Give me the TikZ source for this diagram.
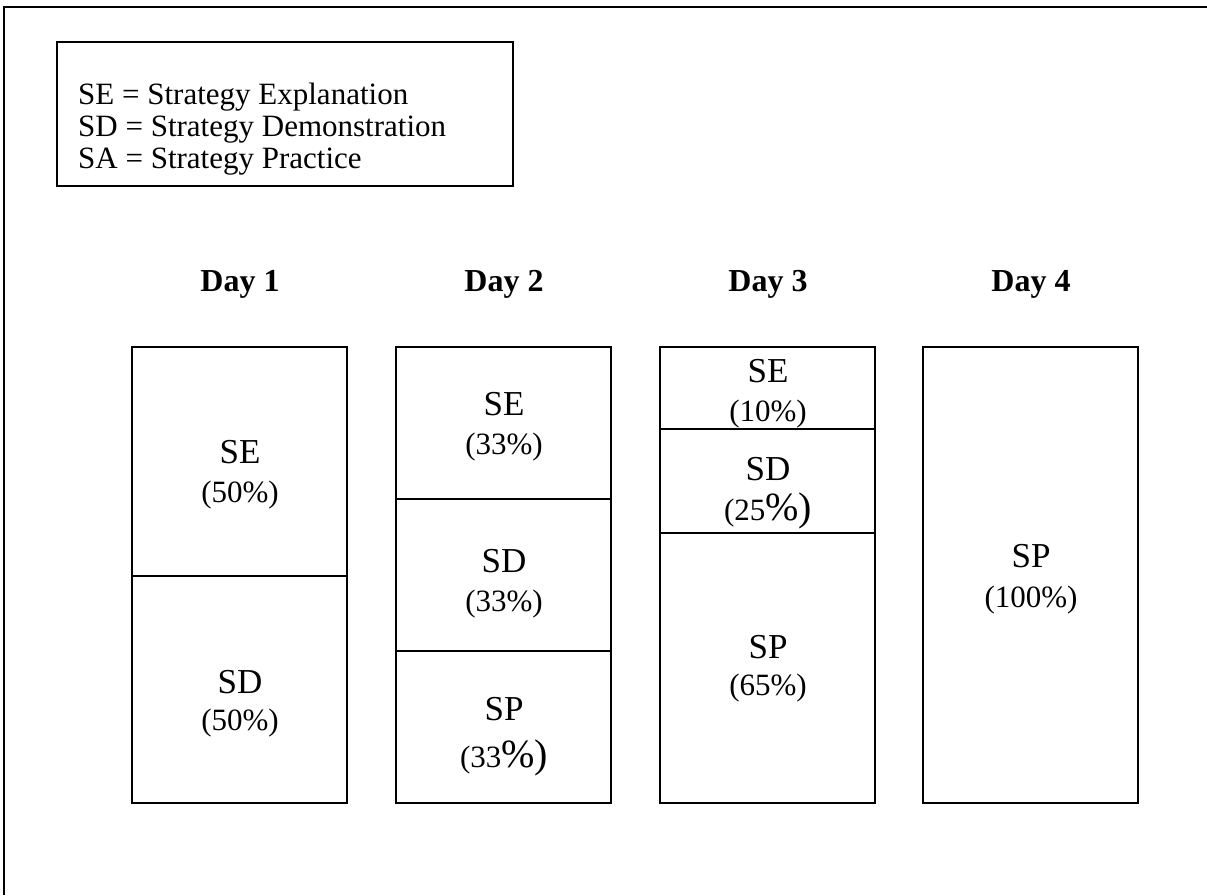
\documentclass[tikz,border=0pt]{standalone}
\usepackage{fontspec}
\setmainfont{Liberation Serif}
\begin{document}
\begin{tikzpicture}[x=1pt,y=-1pt,
  frameline/.style={line width=2pt},
  boxline/.style={line width=1.6pt},
  legendtxt/.style={anchor=base west,inner sep=0pt,font=\fontsize{31}{32}\selectfont},
  daytxt/.style={anchor=base,inner sep=0pt,font=\fontsize{32}{36}\selectfont\bfseries},
  lbl/.style={anchor=base,inner sep=0pt,font=\fontsize{35}{40}\selectfont},
  pct/.style={anchor=base,inner sep=0pt,font=\fontsize{31}{36}\selectfont}
]
\useasboundingbox (0,0) rectangle (1207,895);
% outer frame (top and left only visible)
\coordinate (fTL) at (4,7);
\coordinate (fTR) at (1207,7);
\coordinate (fBL) at (4,895);
\draw[frameline] (fTR) -- (fTL) -- (fBL);
% legend
\node[draw,boxline,minimum width=456pt,minimum height=144pt,inner sep=0pt] (legend) at (285,114) {};
\node[legendtxt] (l1) at (78,104) {SE = Strategy Explanation};
\node[legendtxt] (l2) at (78,136) {SD = Strategy Demonstration};
\node[legendtxt] (l3) at (78,168) {SA = Strategy Practice};
% day titles
\node[daytxt] (d1) at (240,291) {Day 1};
\node[daytxt] (d2) at (504,291) {Day 2};
\node[daytxt] (d3) at (768,291) {Day 3};
\node[daytxt] (d4) at (1031,291) {Day 4};
% Day 1
\draw[boxline] (132,347) rectangle (347,803);
\draw[boxline] (132,576) -- (347,576);
\node[lbl] (a1) at (240,463) {SE};
\node[pct] (a1p) at (240,502) {(50\%)};
\node[lbl] (a2) at (240,693) {SD};
\node[pct] (a2p) at (240,730) {(50\%)};
% Day 2
\draw[boxline] (396,347) rectangle (611,803);
\draw[boxline] (396,499) -- (611,499);
\draw[boxline] (396,651) -- (611,651);
\node[lbl] (b1) at (504,415) {SE};
\node[pct] (b1p) at (504,454) {(33\%)};
\node[lbl] (b2) at (504,572) {SD};
\node[pct] (b2p) at (504,611) {(33\%)};
\node[lbl] (b3) at (504,720) {SP};
\node[pct] (b3p) at (504,767) {(33{\fontsize{40}{40}\selectfont\%)}};
% Day 3
\draw[boxline] (660,347) rectangle (875,803);
\draw[boxline] (660,429) -- (875,429);
\draw[boxline] (660,533) -- (875,533);
\node[lbl] (c1) at (768,382) {SE};
\node[pct] (c1p) at (768,421) {(10\%)};
\node[lbl] (c2) at (768,480) {SD};
\node[pct] (c2p) at (768,520) {(25{\fontsize{40}{40}\selectfont\%)}};
\node[lbl] (c3) at (768,658) {SP};
\node[pct] (c3p) at (768,695) {(65\%)};
% Day 4
\draw[boxline] (923,347) rectangle (1138,803);
\node[lbl] (e1) at (1031,567) {SP};
\node[pct] (e1p) at (1031,607) {(100\%)};
\end{tikzpicture}
\end{document}
